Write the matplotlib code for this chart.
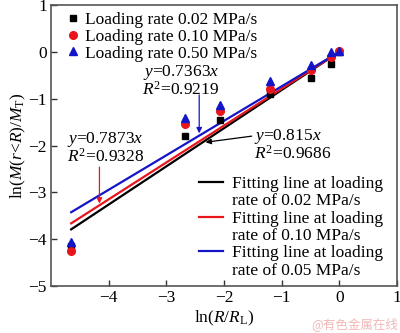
import matplotlib
matplotlib.use("Agg")
import matplotlib.pyplot as plt
from matplotlib.lines import Line2D
import numpy as np

plt.rcParams["font.family"] = ["Liberation Serif", "DejaVu Serif"]
plt.rcParams["mathtext.fontset"] = "custom"
plt.rcParams["mathtext.rm"] = "Liberation Serif"
plt.rcParams["mathtext.it"] = "Liberation Serif:italic"

# ln(R/R_L) sampling positions
ln_r = [-4.65, -2.68, -2.07, -1.20, -0.50, -0.15, 0.0]
# ln(M(r<R)/M_T) per loading rate
rate_002 = [-4.15, -1.80, -1.46, -0.90, -0.56, -0.25, 0.0]
rate_010 = [-4.25, -1.54, -1.27, -0.80, -0.39, -0.12, 0.02]
rate_050 = [-4.05, -1.42, -1.14, -0.62, -0.28, 0.0, 0.02]

# fitted slopes (through the origin)
slope_002 = 0.815
slope_010 = 0.7873
slope_050 = 0.7363
fit_x = [-4.65, 0.0]

fs = 12.5
fig = plt.figure(figsize=(4.0, 3.33), dpi=100)
ax = fig.add_axes([0.1275, 0.141, 0.865, 0.844])

pts = [
    ax.plot(ln_r, rate_002, "s", color="black", ms=5, label="Loading rate 0.02 MPa/s", zorder=3)[0],
    ax.plot(ln_r, rate_010, "o", color="#e8161b", ms=5.5, label="Loading rate 0.10 MPa/s", zorder=3)[0],
    ax.plot(ln_r, rate_050, "^", color="#1414c8", ms=6, label="Loading rate 0.50 MPa/s", zorder=3)[0],
]

fx = np.array(fit_x)
l1, = ax.plot(fx, slope_002 * fx, color="black", lw=1.6, zorder=2)
l2, = ax.plot(fx, slope_010 * fx, color="#e8161b", lw=1.6, zorder=2)
l3, = ax.plot(fx, slope_050 * fx, color="#1414c8", lw=1.6, zorder=2)

ax.set_xlim(-5, 1)
ax.set_ylim(-5, 1)
ax.set_xticks([-4, -3, -2, -1, 0, 1])
ax.set_yticks([-5, -4, -3, -2, -1, 0, 1])
ax.set_xticklabels(["\u22124", "\u22123", "\u22122", "\u22121", "0", "1"])
ax.set_yticklabels(["\u22125", "\u22124", "\u22123", "\u22122", "\u22121", "0", "1"])
ax.tick_params(direction="in", length=4, width=1, labelsize=fs, colors="#333333",
               labelcolor="black", pad=3)
for s in ax.spines.values():
    s.set_color("#555555")
    s.set_linewidth(1.2)

ax.set_xlabel(r"ln($R$/$R_{\rm L}$)", fontsize=fs, labelpad=2)
ax.set_ylabel(r"ln($M$($r$<$R$)/$M_{\rm T}$)", fontsize=fs, labelpad=0)

leg1 = ax.legend(handles=pts, loc="upper left", bbox_to_anchor=(0.043, 0.975),
                 frameon=False, fontsize=fs, handlelength=0.8, handletextpad=0.3,
                 labelspacing=0.03, borderpad=0, borderaxespad=0)
ax.add_artist(leg1)

blank = Line2D([], [], color="none")
fit_handles = [l1, blank, l2, blank, l3, blank]
fit_labels = ["Fitting line at loading", "rate of 0.02 MPa/s",
              "Fitting line at loading", "rate of 0.10 MPa/s",
              "Fitting line at loading", "rate of 0.05 MPa/s"]
ax.legend(fit_handles, fit_labels, loc="upper left", bbox_to_anchor=(0.428, 0.392),
          frameon=False, fontsize=fs, handlelength=1.4, handletextpad=0.5,
          labelspacing=0.07, borderpad=0, borderaxespad=0)

# fit equations with arrows
ax.text(-4.72, -2.05, "$y$=0.7873$x$\n$R^2$=0.9328", fontsize=fs, va="center",
        ha="left", linespacing=0.95)
ax.annotate("", xy=(-4.16, -3.24), xytext=(-4.16, -2.46),
            arrowprops=dict(arrowstyle="-|>", color="#e8161b", lw=0.9,
                            mutation_scale=8, shrinkA=0, shrinkB=0))

ax.text(-2.75, -0.62, "$y$=0.7363$x$\n$R^2$=0.9219", fontsize=fs, va="center",
        ha="center", linespacing=0.95)
ax.annotate("", xy=(-2.43, -1.74), xytext=(-2.43, -0.92),
            arrowprops=dict(arrowstyle="-|>", color="#1414c8", lw=0.9,
                            mutation_scale=8, shrinkA=0, shrinkB=0))

ax.text(-1.48, -1.99, "$y$=0.815$x$\n$R^2$=0.9686", fontsize=fs, va="center",
        ha="left", linespacing=0.95)
ax.annotate("", xy=(-2.32, -1.93), xytext=(-1.52, -1.80),
            arrowprops=dict(arrowstyle="-|>", color="black", lw=0.9,
                            mutation_scale=8, shrinkA=0, shrinkB=0))

fig.text(0.995, 0.005, "@有色金属在线", fontsize=9, color="#f2b8b8",
         ha="right", va="bottom", family=["Noto Sans CJK SC", "DejaVu Sans"])

fig.savefig("out.png", dpi=100)
